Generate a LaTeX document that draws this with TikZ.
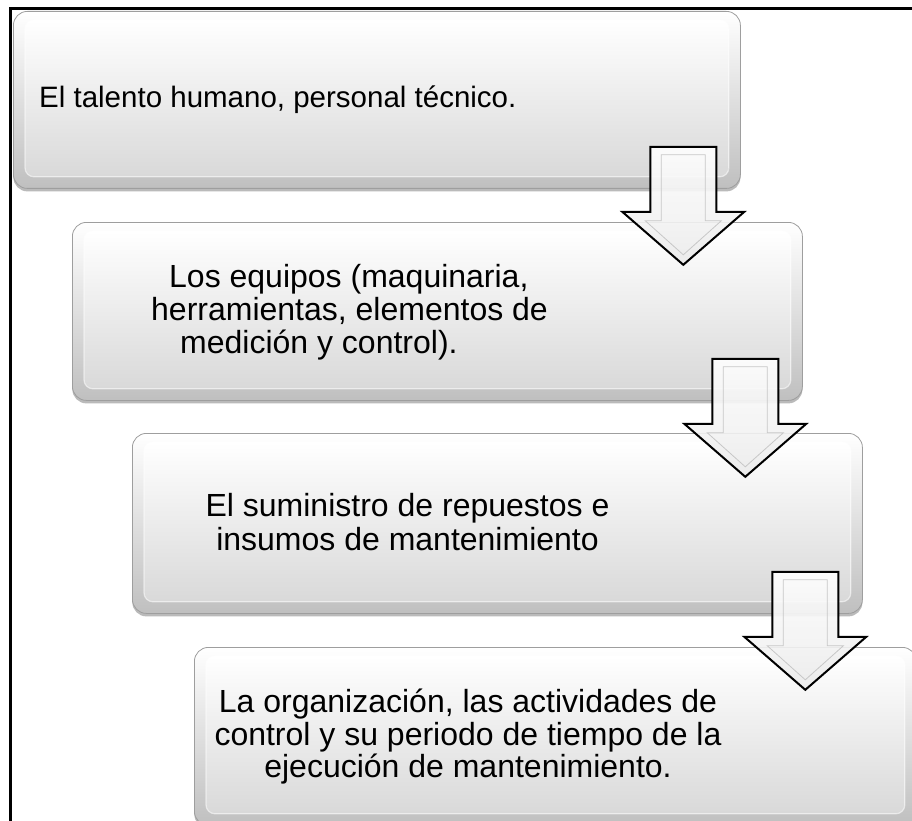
\documentclass[tikz,border=0pt]{standalone}
\usepackage{fontspec}
\setmainfont{Liberation Sans}
\usetikzlibrary{calc,shadows}
\tikzset{
  box/.style={rectangle, rounded corners=14pt, draw=black!38, line width=0.8pt,
    top color=white, bottom color=black!25, inner sep=0pt,
    drop shadow={shadow xshift=0pt, shadow yshift=-3pt, opacity=.45, fill=black!60}},
  bevel/.style={rounded corners=9pt, draw=white, draw opacity=.55, line width=1.2pt,
    top color=white, bottom color=black!15},
  txt/.style={font=\fontsize{32}{34}\selectfont, inner sep=0pt},
  txtsmall/.style={font=\fontsize{29.5}{32}\selectfont, inner sep=0pt},
  blockarrow/.style={draw=black, line width=2pt, line join=miter,
    top color=white, bottom color=black!8, fill opacity=.9},
  arrowbevel/.style={draw=black!22, line width=.8pt},
  frame/.style={draw=black, line width=2.5pt}
}
\newcommand{\bevelbox}[1]{%
  \path[bevel] ([shift={(12,9)}]#1.north west) rectangle ([shift={(-12,-12)}]#1.south east);}
\newcommand{\blockdown}[1]{%
  \path[blockarrow, shift={(#1)}] (-33,0) -- (33,0) -- (33,65) -- (61,65) -- (0,118)
     -- (-61,65) -- (-33,65) -- cycle;
  \draw[arrowbevel, shift={(#1)}] (-22,8) -- (22,8) -- (22,74) -- (38,74) -- (0,108)
     -- (-38,74) -- (-22,74) -- cycle;}
\begin{document}
\begin{tikzpicture}[x=1pt,y=-1pt]
\useasboundingbox (0,0) rectangle (912,821);
\clip (0,0) rectangle (912,821);
\fill[white] (0,0) rectangle (912,821);
% outer frame
\coordinate (fr1) at (920,8.5);
\coordinate (fr2) at (10.5,8.5);
\coordinate (fr3) at (10.5,830);
\draw[frame] (fr1) -- (fr2) -- (fr3);
% boxes
\node[box, anchor=north west, minimum width=727pt, minimum height=177pt] (b1) at (13,11) {};
\bevelbox{b1}
\node[box, anchor=north west, minimum width=730pt, minimum height=178pt] (b2) at (72,222) {};
\bevelbox{b2}
\node[box, anchor=north west, minimum width=730pt, minimum height=180pt] (b3) at (132,433) {};
\bevelbox{b3}
\node[box, anchor=north west, minimum width=722pt, minimum height=178pt] (b4) at (194,647) {};
\bevelbox{b4}
% texts
\node[txtsmall, anchor=base west] (t1) at (39,108) {El talento humano, personal técnico.};
\node[txt, anchor=base west] (t2a) at (169,287) {Los equipos (maquinaria,};
\node[txt, anchor=base west] (t2b) at (151,320) {herramientas, elementos de};
\node[txt, anchor=base west] (t2c) at (180,353) {medición y control).};
\node[txt, anchor=base] (t3a) at (407.5,516) {El suministro de repuestos e};
\node[txt, anchor=base] (t3b) at (407.5,550) {insumos de mantenimiento};
\node[txt, anchor=base] (t4a) at (468,712) {La organización, las actividades de};
\node[txt, anchor=base] (t4b) at (468,745) {control y su periodo de tiempo de la};
\node[txt, anchor=base] (t4c) at (468,777) {ejecución de mantenimiento.};
% arrows
\coordinate (a1) at ($(b1.south east)+(-57.5,-42)$);
\coordinate (a2) at ($(b2.south east)+(-57.5,-42)$);
\coordinate (a3) at ($(b3.south east)+(-57.5,-42)$);
\blockdown{a1}
\blockdown{a2}
\blockdown{a3}
\end{tikzpicture}
\end{document}
